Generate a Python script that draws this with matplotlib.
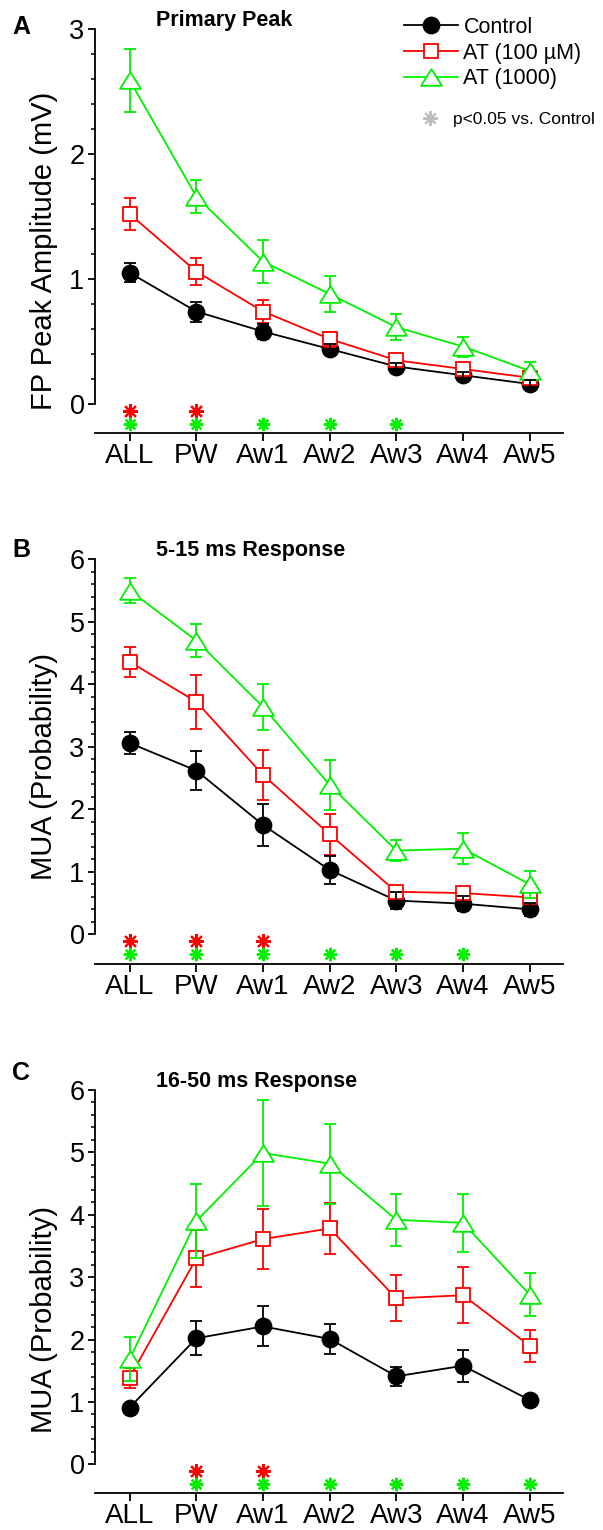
import numpy as np
import matplotlib
matplotlib.use("Agg")
import matplotlib.pyplot as plt
from matplotlib.path import Path
from matplotlib.lines import Line2D
from matplotlib import transforms

plt.rcParams['font.family'] = ['Liberation Sans', 'DejaVu Sans']

categories = ['ALL', 'PW', 'Aw1', 'Aw2', 'Aw3', 'Aw4', 'Aw5']

# Panel A - Primary Peak (mV)
ctrl_A = [1.05, 0.74, 0.58, 0.44, 0.30, 0.23, 0.16]
ctrl_A_err = [0.075, 0.08, 0.06, 0.04, 0.03, 0.03, 0.03]
at100_A = [1.52, 1.06, 0.74, 0.52, 0.35, 0.28, 0.21]
at100_A_err = [0.13, 0.11, 0.09, 0.06, 0.05, 0.04, 0.03]
at1000_A = [2.59, 1.66, 1.14, 0.88, 0.615, 0.46, 0.265]
at1000_A_err = [0.25, 0.13, 0.17, 0.145, 0.105, 0.08, 0.07]
sig100_A = [1, 1, 0, 0, 0, 0, 0]
sig1000_A = [1, 1, 1, 1, 1, 0, 0]

# Panel B - 5-15 ms Response
ctrl_B = [3.06, 2.62, 1.75, 1.03, 0.54, 0.49, 0.40]
ctrl_B_err = [0.17, 0.31, 0.335, 0.22, 0.13, 0.12, 0.10]
at100_B = [4.36, 3.72, 2.55, 1.60, 0.68, 0.66, 0.59]
at100_B_err = [0.24, 0.43, 0.40, 0.33, 0.06, 0.07, 0.08]
at1000_B = [5.50, 4.70, 3.64, 2.39, 1.34, 1.37, 0.80]
at1000_B_err = [0.20, 0.26, 0.365, 0.40, 0.17, 0.25, 0.22]
sig100_B = [1, 1, 1, 0, 0, 0, 0]
sig1000_B = [1, 1, 1, 1, 1, 1, 0]

# Panel C - 16-50 ms Response
ctrl_C = [0.91, 2.02, 2.21, 2.01, 1.41, 1.58, 1.03]
ctrl_C_err = [0.05, 0.27, 0.32, 0.235, 0.155, 0.26, 0.05]
at100_C = [1.39, 3.30, 3.61, 3.78, 2.66, 2.71, 1.90]
at100_C_err = [0.16, 0.45, 0.48, 0.41, 0.37, 0.45, 0.26]
at1000_C = [1.69, 3.90, 4.99, 4.82, 3.92, 3.87, 2.72]
at1000_C_err = [0.35, 0.59, 0.855, 0.64, 0.42, 0.46, 0.35]
sig100_C = [0, 1, 1, 0, 0, 0, 0]
sig1000_C = [0, 1, 1, 1, 1, 1, 1]

series_labels = ['Control', 'AT (100 \u00b5M)', 'AT (1000)']
panel_titles = ['Primary Peak', '5-15 ms Response', '16-50 ms Response']
panel_letters = ['A', 'B', 'C']
ylabels = ['FP Peak Amplitude (mV)', 'MUA (Probability)', 'MUA (Probability)']

RED = '#ff0000'
GREEN = '#00f000'
tri = Path([(0, 0.8), (-1, -0.8), (1, -0.8), (0, 0.8)],
           [Path.MOVETO, Path.LINETO, Path.LINETO, Path.CLOSEPOLY])
STAR = (8, 2, 0)

styles = [
    dict(color='black', marker='o', mfc='black', ms=11.5, ez=6),
    dict(color=RED, marker='s', mfc='white', ms=10.5, ez=3.9),
    dict(color=GREEN, marker=tri, mfc='white', ms=15, ez=4.9),
]

W, H = 603, 1530
fig = plt.figure(figsize=(W / 100, H / 100), dpi=100)

# axes placement in pixels: (left, top of y-range, right, x-axis line)
ax_px = [(95, 29, 563, 433), (95, 559.3, 563, 964), (95, 1090, 563, 1493.3)]
ylims = [(-0.232, 3.0), (-0.475, 6.0), (-0.465, 6.0)]
ymaxs = [3, 6, 6]
label_y = [0.4505, 0.487, 0.43]
letter_y = [27, 550, 1072.5]

panels = [
    (ctrl_A, ctrl_A_err, at100_A, at100_A_err, at1000_A, at1000_A_err, sig100_A, sig1000_A),
    (ctrl_B, ctrl_B_err, at100_B, at100_B_err, at1000_B, at1000_B_err, sig100_B, sig1000_B),
    (ctrl_C, ctrl_C_err, at100_C, at100_C_err, at1000_C, at1000_C_err, sig100_C, sig1000_C),
]

x = np.arange(len(categories))
axes = []
for i, (l, t, r, b) in enumerate(ax_px):
    ax = fig.add_axes([l / W, 1 - b / H, (r - l) / W, (b - t) / H])
    axes.append(ax)
    c, ce, a1, a1e, a2, a2e, s1, s2 = panels[i]
    for (vals, errs), st, lab in zip([(c, ce), (a1, a1e), (a2, a2e)], styles, series_labels):
        ax.errorbar(x, vals, yerr=errs, fmt='none', ecolor=st['color'],
                    elinewidth=1.3, capsize=4.2, capthick=1.3, zorder=st['ez'])
        z = st['ez'] + 0.05 if st['ez'] < 6 else 3
        ax.plot(x, vals, color=st['color'], lw=1.3, marker=st['marker'],
                mfc=st['mfc'], mec=st['color'], mew=1.3, ms=st['ms'],
                zorder=z, label=lab)
    # significance stars just below zero
    tr_red = transforms.offset_copy(ax.transData, fig=fig, y=-4.7, units='points')
    tr_grn = transforms.offset_copy(ax.transData, fig=fig, y=-14.2, units='points')
    xs1 = [xi for xi, s in zip(x, s1) if s]
    xs2 = [xi for xi, s in zip(x, s2) if s]
    ax.plot(xs1, [0] * len(xs1), ls='none', marker=STAR, ms=10.8, mew=1.6,
            color=RED, transform=tr_red, clip_on=False, zorder=7)
    ax.plot(xs2, [0] * len(xs2), ls='none', marker=STAR, ms=9.6, mew=1.6,
            color=GREEN, transform=tr_grn, clip_on=False, zorder=7)

    ax.set_xlim(-0.52, 6.5)
    ax.set_ylim(*ylims[i])
    ax.spines['top'].set_visible(False)
    ax.spines['right'].set_visible(False)
    ax.spines['left'].set_bounds(0, ymaxs[i])
    for sp in ('left', 'bottom'):
        ax.spines[sp].set_linewidth(1.3)
    ax.set_xticks(x)
    ax.set_xticklabels(categories)
    ax.set_yticks(np.arange(0, ymaxs[i] + 0.5, 1))
    ax.set_yticks(np.arange(0, ymaxs[i] + 0.01, 0.2), minor=True)
    ax.tick_params(axis='x', which='both', direction='out', length=5.5, width=1.3,
                   labelsize=20, pad=1.5)
    ax.tick_params(axis='y', which='major', direction='out', length=5, width=1.3,
                   labelsize=19.5, pad=2.5)
    ax.tick_params(axis='y', which='minor', direction='out', length=2.6, width=1.1)
    ax.set_ylabel(ylabels[i], fontsize=21, va='center')
    ax.yaxis.set_label_coords((44 - 95) / 468, label_y[i])
    ax.text(0.130, 1.022, panel_titles[i], transform=ax.transAxes, fontsize=15.5,
            fontweight='bold', ha='left', va='center')
    fig.text(21 / W, 1 - letter_y[i] / H, panel_letters[i], fontsize=18,
             fontweight='bold', ha='center', va='center')

# legend in panel A
axA = axes[0]
handles = [Line2D([], [], color=st['color'], lw=1.3, marker=st['marker'],
                  mfc=st['mfc'], mec=st['color'], mew=1.3, ms=st['ms'])
           for st in styles]
leg = axA.legend(handles, series_labels, loc='upper left',
                 bbox_to_anchor=(404 / W, 1 - 17 / H), bbox_transform=fig.transFigure,
                 frameon=False, fontsize=15.5, handlelength=2.5, handletextpad=0.26,
                 labelspacing=0.22, borderpad=0, borderaxespad=0)
axA.add_artist(leg)
star_h = Line2D([], [], ls='none', marker=STAR, ms=10.5, mew=1.5, color='#bdbdbd')
leg2 = axA.legend([star_h], ['p<0.05 vs. Control'], loc='upper left',
                  bbox_to_anchor=(421 / W, 1 - 112 / H), bbox_transform=fig.transFigure,
                  frameon=False, fontsize=12.5, handlelength=1.0, handletextpad=0.85,
                  borderpad=0, borderaxespad=0)

fig.savefig('out.png', dpi=100)
